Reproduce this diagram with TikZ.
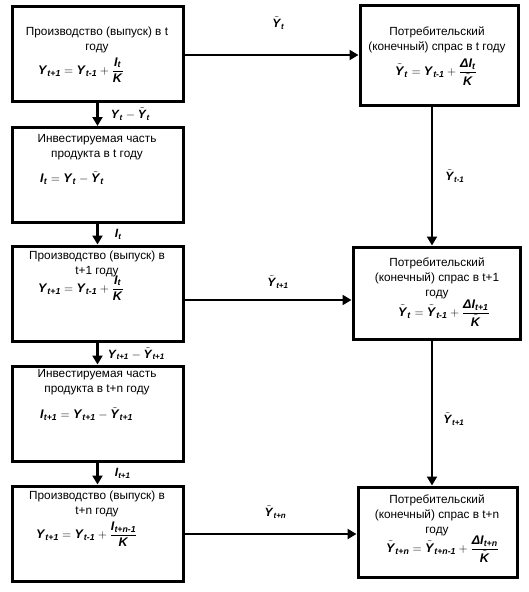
\documentclass[tikz,border=0pt]{standalone}
\usepackage{amsmath}
\usepackage{fontspec}
\setmainfont{Liberation Sans}
\usetikzlibrary{positioning,arrows.meta}

\newcommand{\V}[1]{\textbf{\textit{#1}}}

\begin{document}
\begin{tikzpicture}[x=1pt, y=-1pt,
        box/.style={rectangle, draw=black, line width=3pt,
            minimum width=171pt, minimum height=95pt, inner sep=0pt},
        cbox/.style={rectangle, draw=black, line width=3pt,
            minimum width=160pt, minimum height=92pt, inner sep=0pt},
        txt/.style={font=\fontsize{11.8}{15}\selectfont, align=center, inner sep=0pt},
        frm/.style={font=\fontsize{12.5}{14}\selectfont, inner sep=0pt, anchor=west},
        lbl/.style={font=\fontsize{12}{14}\selectfont, inner sep=0pt},
        arr/.style={-{Triangle[length=9pt,width=10pt]}, line width=2.5pt}
      ]
      \useasboundingbox (0,0) rectangle (528,592);

      % Production / investment column — absolute coords, x=97.5
      \node[box] at (97.5,  53.5) (prod1) {};
      \node[box] at (97.5, 175)   (inv1)  {};
      \node[box] at (97.5, 293.5) (prod2) {};
      \node[box] at (97.5, 413.5) (inv2)  {};
      \node[box] at (97.5, 533.5) (prodn) {};

      % Demand column — absolute coords, x=437
      \node[cbox, minimum width=158pt, minimum height=100pt] at (439, 55) (dem1) {};
      \node[cbox, minimum width=167pt] at (436.5, 293) (dem2) {};
      \node[cbox, minimum width=159pt, minimum height=90pt] at (437.5, 532) (demn) {};

      % Texts in production / investment boxes
      \node[txt] at (97, 39.5)  (tprod1) {Производство (выпуск) в t\\году};
      \node[frm] at (38, 70)    (fprod1) {$\V{Y}_{\V{t+1}} = \V{Y}_{\V{t-1}} + \dfrac{\V{I}_{\V{t}}}{\V{K}}$};
      \node[txt] at (97, 147.5) (tinv1)  {Инвестируемая часть\\продукта в t году};
      \node[frm] at (40, 178)   (finv1)  {$\V{I}_{\V{t}} = \V{Y}_{\V{t}} - \tilde{\V{Y}}_{\V{t}}$};
      \node[txt] at (97, 263.5) (tprod2) {Производство (выпуск) в\\t+1 году};
      \node[frm] at (38, 288)   (fprod2) {$\V{Y}_{\V{t+1}} = \V{Y}_{\V{t-1}} + \dfrac{\V{I}_{\V{t}}}{\V{K}}$};
      \node[txt] at (97, 382.5) (tinv2)  {Инвестируемая часть\\продукта в t+n году};
      \node[frm] at (40, 414)   (finv2)  {$\V{I}_{\V{t+1}} = \V{Y}_{\V{t+1}} - \tilde{\V{Y}}_{\V{t+1}}$};
      \node[txt] at (97, 503.5) (tprodn) {Производство (выпуск) в\\t+n году};
      \node[frm] at (36, 534)   (fprodn) {$\V{Y}_{\V{t+1}} = \V{Y}_{\V{t-1}} + \dfrac{\V{I}_{\V{t+n-1}}}{\V{K}}$};

      % Texts in demand boxes
      \node[txt] at (437, 40)   (tdem1)  {Потребительский\\(конечный) спрас в t году};
      \node[frm] at (395, 72)   (fdem1)  {$\tilde{\V{Y}}_{\V{t}} = \V{Y}_{\V{t-1}} + \dfrac{\V{ΔI}_{\V{t}}}{\tilde{\V{K}}}$};
      \node[txt] at (437, 278)  (tdem2)  {Потребительский\\(конечный) спрас в t+1\\году};
      \node[frm] at (398, 313)  (fdem2)  {$\tilde{\V{Y}}_{\V{t}} = \tilde{\V{Y}}_{\V{t-1}} + \dfrac{\V{ΔI}_{\V{t+1}}}{\tilde{\V{K}}}$};
      \node[txt] at (437, 515)  (tdemn)  {Потребительский\\(конечный) спрас в t+n\\году};
      \node[frm] at (386, 549)  (fdemn)  {$\tilde{\V{Y}}_{\V{t+n}} = \tilde{\V{Y}}_{\V{t+n-1}} + \dfrac{\V{ΔI}_{\V{t+n}}}{\tilde{\V{K}}}$};

      % Left column arrows
      \draw[arr] (prod1) -- (inv1)
        node[lbl, midway, anchor=west, xshift=12pt] (lyt) {$\V{Y}_{\V{t}} - \tilde{\V{Y}}_{\V{t}}$};
      \draw[arr] (inv1) -- (prod2)
        node[lbl, midway, anchor=west, xshift=16pt] (lit) {$\V{I}_{\V{t}}$};
      \draw[arr] (prod2) -- (inv2)
        node[lbl, midway, anchor=west, xshift=9pt] (lyt1) {$\V{Y}_{\V{t+1}} - \tilde{\V{Y}}_{\V{t+1}}$};
      \draw[arr] (inv2) -- (prodn)
        node[lbl, midway, anchor=west, xshift=16pt] (lit1) {$\V{I}_{\V{t+1}}$};

      % Right column arrows — slightly left of centre, x=432
      \draw[arr] ([xshift=-7pt]dem1.south) -- ([xshift=-7pt]dem1.south |- dem2.north)
        node[lbl, midway, anchor=west, xshift=12pt] (lvt) {$\tilde{\V{Y}}_{\V{t-1}}$};
      \draw[arr] ([xshift=-4.5pt]dem2.south) -- ([xshift=-4.5pt]dem2.south |- demn.north)
        node[lbl, midway, anchor=west, xshift=10pt, yshift=-6pt] (lvt1) {$\tilde{\V{Y}}_{\V{t+1}}$};

      % Horizontal arrows between the columns
      \draw[arr] ([yshift=-1.5pt]prod1.east) -- ([yshift=-1.5pt]prod1.east -| dem1.west)
        node[lbl, midway, above=24pt, xshift=7pt] (lht) {$\tilde{\V{Y}}_{\V{t}}$};
      \draw[arr] ([yshift=-6.5pt]prod2.east) -- ([yshift=-6.5pt]prod2.east -| dem2.west)
        node[lbl, midway, above=10pt, xshift=10pt] (lht1) {$\tilde{\V{Y}}_{\V{t+1}}$};
      \draw[arr] ([yshift=-0.5pt]prodn.east) -- ([yshift=-0.5pt]prodn.east -| demn.west)
        node[lbl, midway, above=14pt, xshift=5pt] (lhtn) {$\tilde{\V{Y}}_{\V{t+n}}$};
    \end{tikzpicture}
\end{document}
